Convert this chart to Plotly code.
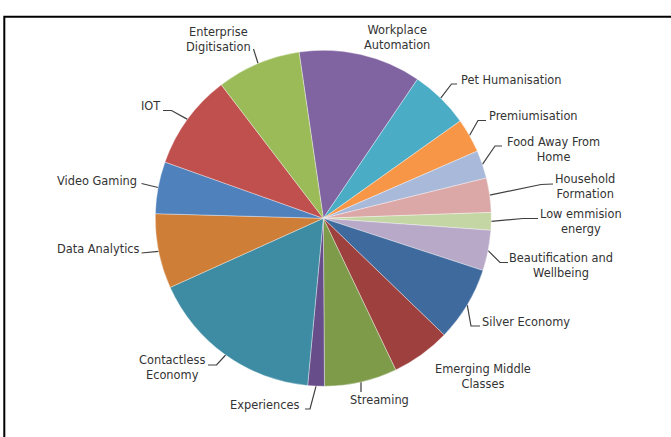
import math
import plotly.graph_objects as go

# Share of exposure by theme (percent), clockwise from 12 o'clock
themes = [
    "Workplace Automation", "Pet Humanisation", "Premiumisation",
    "Food Away From Home", "Household Formation", "Low emmision energy",
    "Beautification and Wellbeing", "Silver Economy", "Emerging Middle Classes",
    "Streaming", "Experiences", "Contactless Economy", "Data Analytics",
    "Video Gaming", "IOT", "Enterprise Digitisation",
]
shares = [11.8, 5.7, 3.3, 2.7, 3.3, 1.7, 3.9, 7.2, 5.7, 7.0, 1.6, 16.8, 7.2, 5.0, 9.2, 8.1]
slice_colors = [
    "#8064A2", "#4BACC6", "#F79646", "#A9B9DA", "#DBA8A7", "#C4D6A4",
    "#B8A9C9", "#3F6A9D", "#9E413E", "#7E9B4A", "#674E8A", "#3D8CA3",
    "#CF7E37", "#4F81BD", "#C0504D", "#9BBB59",
]

W, H = 671, 437
CX, CY, R = 323.3, 218.3, 168.0
ROTATION = -8.3  # first slice begins just left of 12 o'clock

# Label placement (pixel space): text, anchor point, alignment and leader path
label_layout = {
    "Workplace Automation": dict(text="Workplace<br>Automation", x=397, y=37.5, anchor="center", path=None),
    "Pet Humanisation": dict(text="Pet Humanisation", x=459, y=80, anchor="left", path=[(451.5, 84), (457, 84)]),
    "Premiumisation": dict(text="Premiumisation", x=487, y=116, anchor="left", path=[(478, 120.5), (486, 120.5)]),
    "Food Away From Home": dict(text="Food Away From<br>Home", x=553, y=149, anchor="center", path=[(495, 146), (502, 146)]),
    "Household Formation": dict(text="Household<br>Formation", x=585, y=186.5, anchor="center", path=[(541, 184.5), (553, 184)]),
    "Low emmision energy": dict(text="Low emmision<br>energy", x=581, y=221, anchor="center", path=[(523, 218.5), (538, 218.5)]),
    "Beautification and Wellbeing": dict(text="Beautification and<br>Wellbeing", x=561, y=265, anchor="center", path=[(500, 262.5), (508, 262.5)]),
    "Silver Economy": dict(text="Silver Economy", x=480, y=322, anchor="left", path=[(471, 326), (480, 326)]),
    "Emerging Middle Classes": dict(text="Emerging Middle<br>Classes", x=483, y=376, anchor="center", path=None),
    "Streaming": dict(text="Streaming", x=379, y=400, anchor="center", path=[(361, 392)]),
    "Experiences": dict(text="Experiences", x=302, y=405, anchor="right", path=[(310, 409), (305, 409)]),
    "Contactless Economy": dict(text="Contactless<br>Economy", x=172, y=367.5, anchor="center", path=[(216.5, 365), (208, 365)]),
    "Data Analytics": dict(text="Data Analytics", x=142, y=249, anchor="right", path=[(141.5, 253)]),
    "Video Gaming": dict(text="Video Gaming", x=139, y=181, anchor="right", path=[(141.5, 183.5)]),
    "IOT": dict(text="IOT", x=162, y=106, anchor="right", path=[(171.5, 110.5), (163, 110.5)]),
    "Enterprise Digitisation": dict(text="Enterprise<br>Digitisation", x=218, y=39.5, anchor="center", path=[(253.5, 49)]),
}

TEXT_COLOR = "#333333"
LINE_COLOR = "#404040"
FONT = "DejaVu Sans, Verdana, sans-serif"

fig = go.Figure()

fig.add_trace(go.Pie(
    labels=themes,
    values=shares,
    marker=dict(colors=slice_colors, line=dict(color="rgba(255,255,255,0.6)", width=0.6)),
    sort=False,
    direction="clockwise",
    rotation=ROTATION,
    textinfo="none",
    hoverinfo="label+percent",
    showlegend=False,
    domain=dict(x=[(CX - R) / W, (CX + R) / W], y=[(H - CY - R) / H, (H - CY + R) / H]),
))

# Leader lines start on the rim at each slice's mid-angle
total = sum(shares)
angle = ROTATION
annotations = []
for name, val in zip(themes, shares):
    span = 360.0 * val / total
    mid = math.radians(angle + span / 2)
    angle += span
    spec = label_layout[name]
    if spec["path"]:
        sx = CX + R * math.sin(mid)
        sy = CY - R * math.cos(mid)
        xs = [sx] + [p[0] for p in spec["path"]]
        ys = [sy] + [p[1] for p in spec["path"]]
        fig.add_trace(go.Scatter(
            x=xs, y=ys, mode="lines",
            line=dict(color=LINE_COLOR, width=1.2),
            hoverinfo="skip", showlegend=False,
        ))
    annotations.append(dict(
        x=spec["x"], y=spec["y"], xref="x", yref="y",
        text=spec["text"], showarrow=False,
        xanchor=spec["anchor"], yanchor="middle", align="center",
        font=dict(family=FONT, size=11.4, color=TEXT_COLOR),
    ))

fig.update_layout(
    width=W, height=H,
    margin=dict(l=0, r=0, t=0, b=0),
    paper_bgcolor="white", plot_bgcolor="white",
    xaxis=dict(range=[0, W], visible=False, fixedrange=True),
    yaxis=dict(range=[H, 0], visible=False, fixedrange=True),
    annotations=annotations,
    shapes=[dict(
        type="path", xref="x", yref="y",
        path=f"M 4.3 {H + 5} L 4.3 16.7 L {W + 5} 16.7",
        line=dict(color="black", width=2),
    )],
)

fig.write_html("out.html")
